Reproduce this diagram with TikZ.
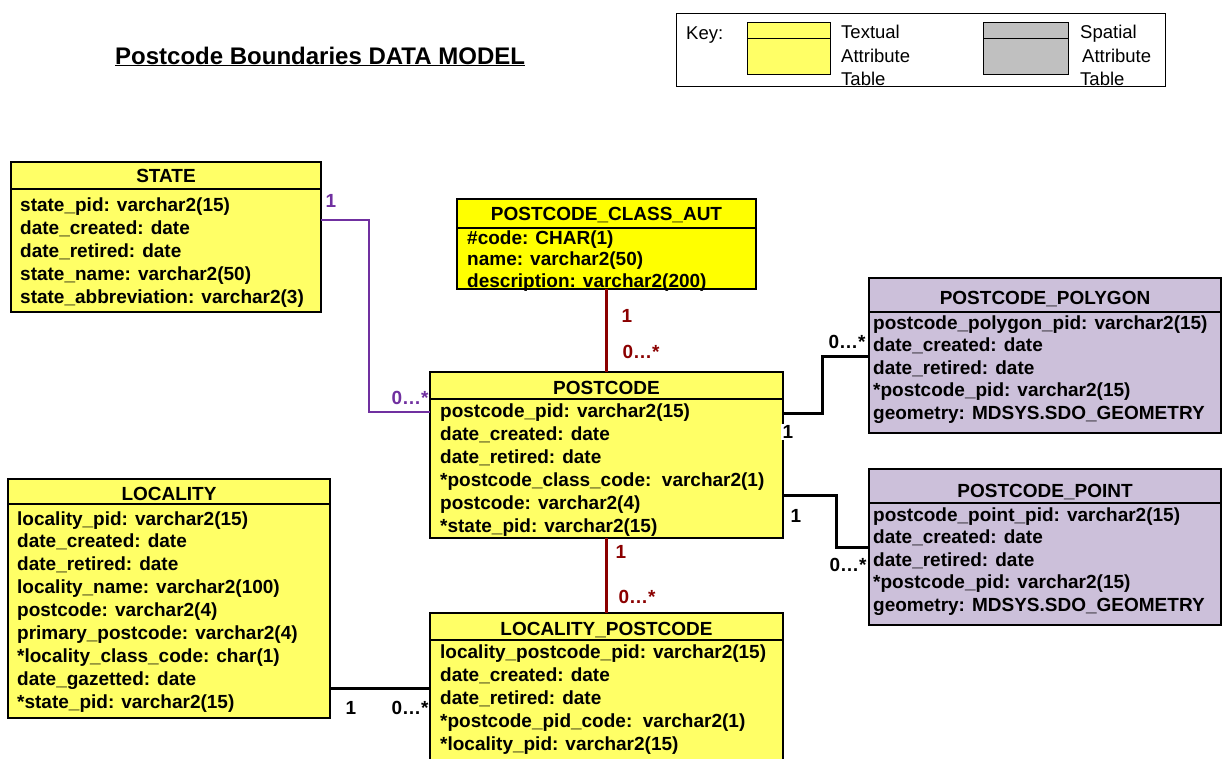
\documentclass[tikz,border=0pt]{standalone}
\usepackage{fontspec}
\setmainfont{Liberation Sans}
\usetikzlibrary{calc}
\definecolor{tyellow}{HTML}{FFFF66}
\definecolor{byellow}{HTML}{FFFF00}
\definecolor{lav}{HTML}{CCC0DA}
\definecolor{kgray}{HTML}{C0C0C0}
\definecolor{rpurple}{HTML}{7030A0}
\definecolor{rred}{HTML}{8B0000}
\begin{document}
\begin{tikzpicture}[x=1pt,y=-1pt,
  tbl/.style={draw=black, line width=1.3pt, anchor=north west, inner sep=0pt, outer sep=0pt},
  hline/.style={line width=1.3pt},
  row/.style={anchor=base west, inner sep=0pt, font=\fontsize{19}{23}\selectfont\bfseries},
  hdr/.style={anchor=base, inner sep=0pt, font=\fontsize{19}{23}\selectfont\bfseries},
  lbl/.style={inner sep=0pt, font=\fontsize{19}{23}\selectfont\bfseries},
  conn/.style={line width=3pt},
  keytxt/.style={anchor=base west, inner sep=0pt, font=\fontsize{18.5}{22}\selectfont},
  keybox/.style={draw=black, line width=1pt, anchor=north west, inner sep=0pt, outer sep=0pt}]
\useasboundingbox (0,0) rectangle (1222,758);
\fill[white] (0,0) rectangle (1222,758);

% title
\node[anchor=base west, inner sep=0pt, font=\fontsize{24}{28}\selectfont\bfseries] (title) at (115,64) {\underline{Postcode Boundaries DATA MODEL}};

% key
\node[keybox, minimum width=489pt, minimum height=73pt] (key) at (676,13) {};
\node[keybox, fill=tyellow, minimum width=83pt, minimum height=52pt] (keyy) at (747,22) {};
\draw[line width=1pt] ($(keyy.north west)+(0,16)$) -- ($(keyy.north east)+(0,16)$);
\node[keybox, fill=kgray, minimum width=85pt, minimum height=52pt] (keyg) at (983,22) {};
\draw[line width=1pt] ($(keyg.north west)+(0,16)$) -- ($(keyg.north east)+(0,16)$);
\node[keytxt] (kk) at (686,39) {Key:};
\node[keytxt] (kt1) at (841,38) {Textual};
\node[keytxt] (kt2) at (841,62) {Attribute};
\node[keytxt] (kt3) at (841,85) {Table};
\node[keytxt] (ks1) at (1080,38) {Spatial};
\node[keytxt] (ks2) at (1082,62) {Attribute};
\node[keytxt] (ks3) at (1080,85) {Table};

% table boxes
\node[tbl, fill=tyellow, minimum width=310pt, minimum height=150pt] (state) at (11,162) {};
\node[tbl, fill=byellow, minimum width=299pt, minimum height=90pt] (classaut) at (457,199) {};
\node[tbl, fill=lav, minimum width=352pt, minimum height=155pt] (polygon) at (869,278) {};
\node[tbl, fill=tyellow, minimum width=353pt, minimum height=166pt] (postcode) at (430,372) {};
\node[tbl, fill=lav, minimum width=352pt, minimum height=156pt] (point) at (869,469) {};
\node[tbl, fill=tyellow, minimum width=322pt, minimum height=239pt] (locality) at (8,479) {};
\node[tbl, fill=tyellow, minimum width=353pt, minimum height=170pt] (lp) at (430,613) {};

% header separators
\draw[hline] ($(state.north west)+(0,27)$) -- ($(state.north east)+(0,27)$);
\draw[hline] ($(classaut.north west)+(0,29)$) -- ($(classaut.north east)+(0,29)$);
\draw[hline] ($(polygon.north west)+(0,34)$) -- ($(polygon.north east)+(0,34)$);
\draw[hline] ($(postcode.north west)+(0,27)$) -- ($(postcode.north east)+(0,27)$);
\draw[hline] ($(point.north west)+(0,34)$) -- ($(point.north east)+(0,34)$);
\draw[hline] ($(locality.north west)+(0,25)$) -- ($(locality.north east)+(0,25)$);
\draw[hline] ($(lp.north west)+(0,27)$) -- ($(lp.north east)+(0,27)$);

% headers
\node[hdr] (stateh) at ($(state.north)+(0,20)$) {STATE};
\node[hdr] (classauth) at ($(classaut.north)+(0,21)$) {POSTCODE\_CLASS\_AUT};
\node[hdr] (polygonh) at ($(polygon.north)+(0,26)$) {POSTCODE\_POLYGON};
\node[hdr] (postcodeh) at ($(postcode.north)+(0,22)$) {POSTCODE};
\node[hdr] (pointh) at ($(point.north)+(0,28)$) {POSTCODE\_POINT};
\node[hdr] (localityh) at ($(locality.north)+(0,21)$) {LOCALITY};
\node[hdr] (lph) at ($(lp.north)+(0,22)$) {LOCALITY\_POSTCODE};

% rows
\foreach \t [count=\i from 0] in {{state\_pid: varchar2(15)},{date\_created: date},{date\_retired: date},{state\_name: varchar2(50)},{state\_abbreviation: varchar2(3)}}
  \node[row] (state-\i) at (20,{211+23*\i}) {\t};
\foreach \t [count=\i from 0] in {{\#code: CHAR(1)},{name: varchar2(50)},{description: varchar2(200)}}
  \node[row] (classaut-\i) at (467,{244+21.5*\i}) {\t};
\foreach \t [count=\i from 0] in {{postcode\_polygon\_pid: varchar2(15)},{date\_created: date},{date\_retired: date},{*postcode\_pid: varchar2(15)},{geometry: MDSYS.SDO\_GEOMETRY}}
  \node[row] (polygon-\i) at (873,{329+22.5*\i}) {\t};
\foreach \t [count=\i from 0] in {{postcode\_pid: varchar2(15)},{date\_created: date},{date\_retired: date},{*postcode\_class\_code:\ \ varchar2(1)},{postcode: varchar2(4)},{*state\_pid: varchar2(15)}}
  \node[row] (postcode-\i) at (440,{417+23*\i}) {\t};
\foreach \t [count=\i from 0] in {{postcode\_point\_pid: varchar2(15)},{date\_created: date},{date\_retired: date},{*postcode\_pid: varchar2(15)},{geometry: MDSYS.SDO\_GEOMETRY}}
  \node[row] (point-\i) at (873,{521+22.5*\i}) {\t};
\foreach \t [count=\i from 0] in {{locality\_pid: varchar2(15)},{date\_created: date},{date\_retired: date},{locality\_name: varchar2(100)},{postcode: varchar2(4)},{primary\_postcode: varchar2(4)},{*locality\_class\_code: char(1)},{date\_gazetted: date},{*state\_pid: varchar2(15)}}
  \node[row] (locality-\i) at (17,{525+22.9*\i}) {\t};
\foreach \t [count=\i from 0] in {{locality\_postcode\_pid: varchar2(15)},{date\_created: date},{date\_retired: date},{*postcode\_pid\_code:\ \ varchar2(1)},{*locality\_pid: varchar2(15)}}
  \node[row] (lp-\i) at (440,{658+23*\i}) {\t};

% connectors
\draw[conn, rpurple, line width=2.7pt] ($(state.north east)+(0,58)$) -- ++(48,0) |- ($(postcode.north west)+(0,40)$);
\draw[conn, rred] (classaut.south) -- (postcode.north);
\draw[conn, rred] (postcode.south) -- (lp.north);
\draw[conn] ($(postcode.north east)+(0,41)$) -- ++(39,0) |- ($(polygon.north west)+(0,78)$);
\draw[conn] ($(postcode.north east)+(0,123)$) -- ++(53,0) |- ($(point.north west)+(0,78)$);
\draw[conn] ($(locality.north east)+(0,209)$) -- ($(lp.north west)+(0,75)$);

% multiplicity labels
\node[lbl, text=rpurple] (m1) at (331,201) {1};
\node[lbl, text=rpurple] (m2) at (410,398) {0…*};
\node[lbl, text=rred] (m3) at (627,316) {1};
\node[lbl, text=rred] (m4) at (641,352) {0…*};
\node[lbl, text=rred] (m5) at (621,552) {1};
\node[lbl, text=rred] (m6) at (637,597) {0…*};
\node[lbl] (m7) at (847,342) {0…*};
\node[lbl, fill=white, inner sep=1.5pt] (m8) at (788,432) {1};
\node[lbl] (m9) at (796,516) {1};
\node[lbl] (m10) at (848,565) {0…*};
\node[lbl] (m11) at (351,708) {1};
\node[lbl] (m12) at (410,708) {0…*};
\end{tikzpicture}
\end{document}
